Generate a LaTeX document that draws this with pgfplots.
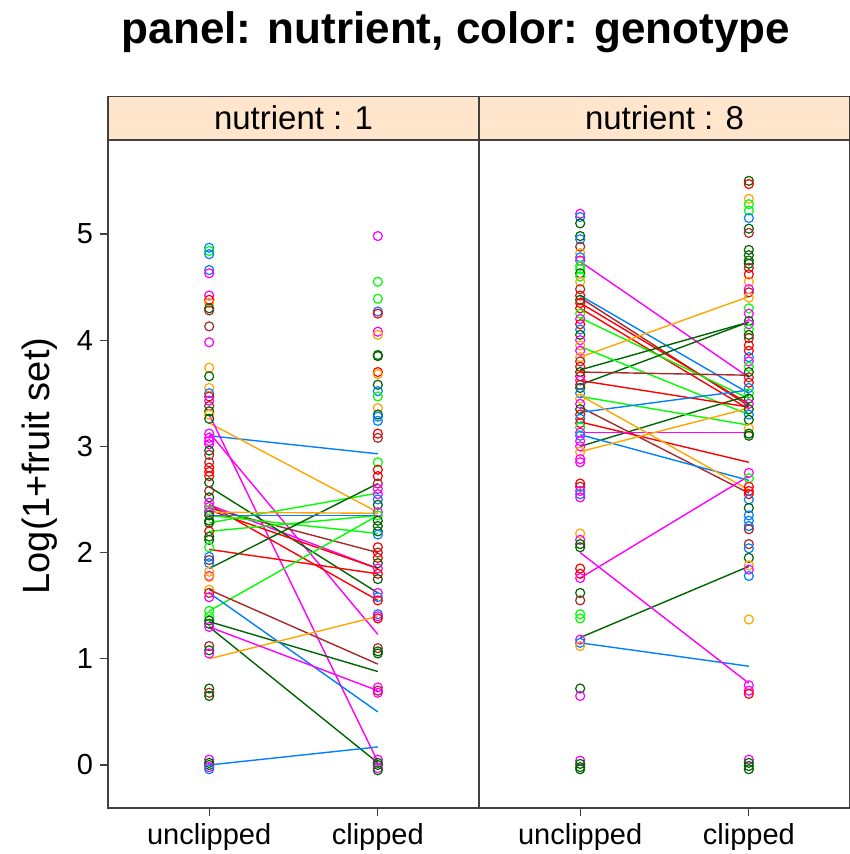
\documentclass[border=0pt]{standalone}
\usepackage{pgfplots}
\pgfplotsset{compat=1.18}
\usepackage{pgfplotstable}
\usepackage{fontspec}
\setmainfont{Liberation Sans}

\definecolor{c1}{HTML}{0080FF}
\definecolor{c2}{HTML}{FF00FF}
\definecolor{c3}{HTML}{006400}
\definecolor{c4}{HTML}{FF0000}
\definecolor{c5}{HTML}{FFA500}
\definecolor{c6}{HTML}{00FF00}
\definecolor{c7}{HTML}{A52A2A}
\definecolor{strip}{HTML}{FFE5CC}

% points: x (1 = unclipped, 2 = clipped), y, genotype colour class
\pgfplotstableread{
x y g
1 4.87 a
1 4.84 f
1 4.81 a
1 4.66 a
1 4.63 b
1 4.42 b
1 4.38 d
1 4.35 e
1 4.30 c
1 4.28 g
1 4.13 g
1 3.98 b
1 3.74 e
1 3.66 c
1 3.55 e
1 3.50 a
1 3.47 d
1 3.43 b
1 3.38 g
1 3.33 c
1 3.30 e
1 3.26 c
1 3.12 b
1 3.08 b
1 3.05 b
1 3.02 b
1 2.96 c
1 2.92 g
1 2.85 g
1 2.80 d
1 2.76 d
1 2.72 d
1 2.66 c
1 2.58 g
1 2.52 c
1 2.47 b
1 2.43 b
1 2.40 f
1 2.38 b
1 2.35 c
1 2.30 c
1 2.28 c
1 2.20 d
1 2.15 c
1 2.12 c
1 2.05 f
1 1.96 a
1 1.93 g
1 1.90 a
1 1.82 e
1 1.78 b
1 1.77 e
1 1.65 e
1 1.62 g
1 1.58 b
1 1.45 f
1 1.40 f
1 1.36 c
1 1.33 c
1 1.30 b
1 1.12 g
1 1.08 c
1 1.05 b
1 0.72 c
1 0.68 g
1 0.65 c
1 0.05 b
1 0.02 c
1 0.00 c
1 -0.02 b
1 -0.04 a
2 4.98 b
2 4.55 f
2 4.39 f
2 4.27 a
2 4.25 d
2 4.08 b
2 4.05 e
2 3.86 c
2 3.85 c
2 3.70 d
2 3.68 e
2 3.58 c
2 3.52 a
2 3.47 f
2 3.36 e
2 3.30 c
2 3.28 a
2 3.24 a
2 3.12 d
2 3.08 g
2 2.85 f
2 2.78 d
2 2.72 d
2 2.65 g
2 2.60 b
2 2.55 b
2 2.50 a
2 2.45 c
2 2.38 b
2 2.35 f
2 2.30 c
2 2.25 c
2 2.20 c
2 2.17 a
2 2.05 d
2 2.00 g
2 1.95 d
2 1.90 c
2 1.85 b
2 1.80 d
2 1.75 c
2 1.62 b
2 1.58 a
2 1.55 d
2 1.42 a
2 1.40 b
2 1.38 d
2 1.10 g
2 1.07 c
2 1.05 c
2 0.73 b
2 0.70 g
2 0.68 b
2 0.05 b
2 0.02 c
2 0.00 c
2 -0.03 b
2 -0.05 c
}\nutA

\pgfplotstableread{
x y g
1 5.19 b
1 5.16 a
1 5.10 c
1 4.98 c
1 4.95 a
1 4.88 g
1 4.82 e
1 4.78 a
1 4.75 b
1 4.70 f
1 4.67 f
1 4.63 c
1 4.60 f
1 4.55 e
1 4.48 g
1 4.42 d
1 4.38 c
1 4.35 d
1 4.30 d
1 4.25 f
1 4.20 b
1 4.15 d
1 4.10 a
1 4.05 c
1 4.00 b
1 3.95 e
1 3.90 b
1 3.84 e
1 3.80 g
1 3.75 d
1 3.70 c
1 3.66 d
1 3.62 b
1 3.58 g
1 3.55 c
1 3.50 a
1 3.45 e
1 3.40 b
1 3.35 c
1 3.30 d
1 3.26 a
1 3.22 d
1 3.18 f
1 3.13 b
1 3.10 a
1 3.05 b
1 3.00 b
1 2.95 e
1 2.88 b
1 2.85 b
1 2.65 d
1 2.62 g
1 2.58 b
1 2.55 a
1 2.52 b
1 2.18 e
1 2.12 b
1 2.08 c
1 2.05 c
1 1.85 d
1 1.80 d
1 1.76 b
1 1.62 c
1 1.55 g
1 1.42 f
1 1.38 f
1 1.18 b
1 1.15 a
1 1.12 e
1 0.72 c
1 0.65 b
1 0.04 b
1 0.01 c
1 -0.02 c
1 -0.04 c
2 5.50 c
2 5.47 d
2 5.33 e
2 5.28 f
2 5.22 f
2 5.15 a
2 5.05 c
2 5.01 g
2 4.85 c
2 4.80 c
2 4.75 c
2 4.72 c
2 4.68 g
2 4.62 d
2 4.55 e
2 4.48 b
2 4.45 g
2 4.40 e
2 4.30 f
2 4.25 b
2 4.18 c
2 4.15 b
2 4.10 f
2 4.05 c
2 4.02 g
2 3.95 d
2 3.90 d
2 3.84 a
2 3.80 b
2 3.75 f
2 3.70 c
2 3.65 g
2 3.60 d
2 3.55 a
2 3.50 f
2 3.45 c
2 3.40 b
2 3.35 c
2 3.30 a
2 3.25 c
2 3.17 e
2 3.12 c
2 3.10 c
2 2.75 b
2 2.70 f
2 2.62 d
2 2.58 d
2 2.55 d
2 2.50 a
2 2.42 c
2 2.35 a
2 2.30 a
2 2.25 a
2 2.22 g
2 2.08 g
2 2.04 a
2 1.95 c
2 1.88 e
2 1.84 b
2 1.78 a
2 1.37 e
2 0.75 b
2 0.70 b
2 0.67 d
2 0.05 b
2 0.02 c
2 -0.01 c
2 -0.04 c
}\nutB

\pgfplotsset{
  panel/.style={
    width=185.5pt, height=334pt, scale only axis,
    xmin=0.4, xmax=2.6, ymin=-0.405, ymax=5.885,
    xtick={1,2}, xticklabels={unclipped,clipped}, xtick pos=lower,
    ytick={0,1,2,3,4,5},
    tick align=outside, major tick length=4pt,
    axis line style={black!75, line width=0.6pt},
    every tick/.style={black!75, line width=0.6pt},
    ticklabel style={font=\fontsize{14.5}{16}\selectfont},
    /pgf/number format/assume math mode=true,
    every axis title/.style={at={(0.5,1)}, anchor=south, fill=strip,
      draw=black!75, line width=0.6pt, minimum width=185.5pt,
      minimum height=21.5pt, inner sep=0pt,
      font=\fontsize{16.5}{18}\selectfont},
    scatter/classes={
      a={mark=o, draw=c1}, b={mark=o, draw=c2}, c={mark=o, draw=c3},
      d={mark=o, draw=c4}, e={mark=o, draw=c5}, f={mark=o, draw=c6},
      g={mark=o, draw=c7}},
    mark size=2.25pt,
    every axis plot/.append style={line width=0.7pt},
  },
  pts/.style={scatter, only marks, scatter src=explicit symbolic,
    mark options={line width=0.6pt}},
}

\begin{document}
\begin{tikzpicture}
\path[use as bounding box] (0,0) rectangle (424.5pt,427pt);
\node[font=\bfseries\fontsize{22}{26}\selectfont] at (228pt,411pt)
  {panel: nutrient, color: genotype};

\begin{axis}[panel, name=p1, at={(54pt,23pt)}, anchor=south west,
  ytick pos=left, title={nutrient : 1},
  ylabel={Log(1+fruit set)},
  every axis y label/.style={at={(axis description cs:-0.185,0.512)},
    rotate=90, anchor=center, font=\fontsize{19}{22}\selectfont}]
\addplot[pts] table[x=x, y=y, meta=g] {\nutA};
\addplot[c1, no marks] coordinates {(1,3.10) (2,2.93)};
\addplot[c5, no marks] coordinates {(1,3.22) (2,2.38)};
\addplot[c2, no marks] coordinates {(1,3.30) (2,0.03)};
\addplot[c2, no marks] coordinates {(1,3.13) (2,1.23)};
\addplot[c2, no marks] coordinates {(1,2.45) (2,1.85)};
\addplot[c3, no marks] coordinates {(1,2.62) (2,1.62)};
\addplot[c4, no marks] coordinates {(1,2.45) (2,1.55)};
\addplot[c4, no marks] coordinates {(1,2.40) (2,1.85)};
\addplot[c4, no marks] coordinates {(1,2.03) (2,1.80)};
\addplot[c7, no marks] coordinates {(1,2.42) (2,2.00)};
\addplot[c6, no marks] coordinates {(1,2.20) (2,2.35)};
\addplot[c6, no marks] coordinates {(1,2.35) (2,2.18)};
\addplot[c6, no marks] coordinates {(1,1.45) (2,2.35)};
\addplot[c6, no marks] coordinates {(1,2.28) (2,2.56)};
\addplot[c3, no marks] coordinates {(1,1.85) (2,2.65)};
\addplot[c3, no marks] coordinates {(1,1.35) (2,0.88)};
\addplot[c3, no marks] coordinates {(1,1.30) (2,0.02)};
\addplot[c1, no marks] coordinates {(1,2.35) (2,2.35)};
\addplot[c1, no marks] coordinates {(1,1.62) (2,0.50)};
\addplot[c1, no marks] coordinates {(1,0.00) (2,0.17)};
\addplot[c7, no marks] coordinates {(1,1.65) (2,0.95)};
\addplot[c5, no marks] coordinates {(1,1.00) (2,1.40)};
\addplot[c5, no marks] coordinates {(1,2.38) (2,2.37)};
\addplot[c2, no marks] coordinates {(1,1.30) (2,0.70)};
\end{axis}

\begin{axis}[panel, at={(239.5pt,23pt)}, anchor=south west,
  ytick pos=right, yticklabels={}, title={nutrient : 8}]
\addplot[pts] table[x=x, y=y, meta=g] {\nutB};
\addplot[c2, no marks] coordinates {(1,4.74) (2,3.65)};
\addplot[c7, no marks] coordinates {(1,4.40) (2,3.38)};
\addplot[c1, no marks] coordinates {(1,4.42) (2,3.50)};
\addplot[c4, no marks] coordinates {(1,4.35) (2,3.40)};
\addplot[c4, no marks] coordinates {(1,4.30) (2,3.35)};
\addplot[c6, no marks] coordinates {(1,4.21) (2,3.45)};
\addplot[c5, no marks] coordinates {(1,3.84) (2,4.41)};
\addplot[c3, no marks] coordinates {(1,3.72) (2,4.17)};
\addplot[c3, no marks] coordinates {(1,3.58) (2,4.17)};
\addplot[c3, no marks] coordinates {(1,3.00) (2,3.48)};
\addplot[c6, no marks] coordinates {(1,3.94) (2,3.30)};
\addplot[c6, no marks] coordinates {(1,3.47) (2,3.20)};
\addplot[c7, no marks] coordinates {(1,3.70) (2,3.67)};
\addplot[c7, no marks] coordinates {(1,3.37) (2,2.56)};
\addplot[c4, no marks] coordinates {(1,3.62) (2,3.37)};
\addplot[c1, no marks] coordinates {(1,3.32) (2,3.53)};
\addplot[c4, no marks] coordinates {(1,3.23) (2,2.85)};
\addplot[c2, no marks] coordinates {(1,3.13) (2,3.13)};
\addplot[c1, no marks] coordinates {(1,3.11) (2,2.68)};
\addplot[c5, no marks] coordinates {(1,3.48) (2,2.59)};
\addplot[c5, no marks] coordinates {(1,2.95) (2,3.36)};
\addplot[c3, no marks] coordinates {(1,1.20) (2,1.87)};
\addplot[c1, no marks] coordinates {(1,1.15) (2,0.93)};
\addplot[c2, no marks] coordinates {(1,1.76) (2,2.72)};
\addplot[c2, no marks] coordinates {(1,2.00) (2,0.77)};
\end{axis}
\end{tikzpicture}
\end{document}
